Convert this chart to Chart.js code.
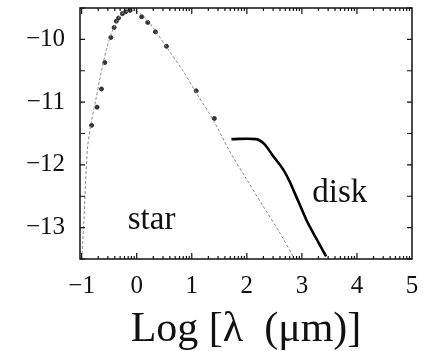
<!DOCTYPE html>
<html>
<head>
<meta charset="utf-8">
<script src="https://cdn.jsdelivr.net/npm/chart.js@4.4.0/dist/chart.umd.min.js"></script>
<style>
  html, body { margin: 0; padding: 0; background: #fff; }
  #wrap { width: 423px; height: 351px; position: relative; }
</style>
</head>
<body>
<div id="wrap"><canvas id="sed"></canvas></div>
<script>
// stellar photosphere model (thin grey line)
const starLineX = [-1.0, -0.96, -0.93, -0.89, -0.82, -0.74, -0.67, -0.55, -0.43, -0.28, -0.13, 0.0, 0.18, 0.36, 0.57, 0.84, 1.08, 1.38, 1.68, 1.99, 2.29, 2.59, 2.86];
const starLineY = [-13.5, -12.9, -12.3, -11.7, -11.3, -10.95, -10.63, -10.16, -9.84, -9.6, -9.54, -9.55, -9.68, -9.89, -10.16, -10.5, -10.85, -11.27, -11.77, -12.22, -12.65, -13.07, -13.49];

// photometry points
const obsX = [-0.82, -0.72, -0.64, -0.58, -0.47, -0.41, -0.37, -0.33, -0.26, -0.2, -0.12, 0.09, 0.2, 0.34, 0.54, 1.08, 1.41];
const obsY = [-11.37, -11.08, -10.79, -10.37, -9.97, -9.81, -9.71, -9.66, -9.59, -9.56, -9.54, -9.64, -9.73, -9.88, -10.11, -10.82, -11.26];

// disk emission (thick black line)
const diskX = [1.72, 2.17, 2.32, 2.47, 2.65, 2.77, 2.86, 2.98, 3.10, 3.26, 3.44];
const diskY = [-11.59, -11.59, -11.67, -11.85, -12.06, -12.25, -12.43, -12.67, -12.91, -13.17, -13.46];

// axes
const xTicks = [-1, 0, 1, 2, 3, 4, 5];
const yTicks = [-10, -11, -12, -13];
const yMinorTicks = [-9.5, -10, -10.5, -11, -11.5, -12, -12.5, -13, -13.5];

// in-plot labels
const noteText = ['star', 'disk'];
const noteX = [0.27, 3.19];
const noteY = [-13.02, -12.59];

const toPts = (xs, ys) => xs.map((x, i) => ({ x: x, y: ys[i] }));
const serif = '"Liberation Serif", "DejaVu Serif", serif';

// frame + inward ticks + the two text notes
const framePlugin = {
  id: 'frame',
  afterDatasetsDraw(chart) {
    const { ctx, chartArea: a, scales: { x, y } } = chart;
    ctx.save();
    ctx.strokeStyle = '#111';
    ctx.lineWidth = 1.5;
    ctx.strokeRect(a.left, a.top, a.right - a.left, a.bottom - a.top);

    ctx.lineWidth = 1.2;
    ctx.beginPath();
    // x ticks: major at integers, minor at log steps in each decade
    for (let d = -1; d <= 4; d++) {
      for (let k = 1; k <= 9; k++) {
        const v = d + Math.log10(k);
        if (v < x.min || v > x.max) continue;
        const px = x.getPixelForValue(v);
        const len = k === 1 ? 6 : 3;
        ctx.moveTo(px, a.bottom); ctx.lineTo(px, a.bottom - len);
        ctx.moveTo(px, a.top); ctx.lineTo(px, a.top + len);
      }
    }
    yMinorTicks.forEach(v => {
      const py = y.getPixelForValue(v);
      ctx.moveTo(a.left, py); ctx.lineTo(a.left + 5, py);
      ctx.moveTo(a.right, py); ctx.lineTo(a.right - 5, py);
    });
    ctx.stroke();

    ctx.fillStyle = '#111';
    ctx.font = '33px ' + serif;
    ctx.textBaseline = 'alphabetic';
    noteText.forEach((t, i) => {
      ctx.textAlign = i === 0 ? 'center' : 'left';
      ctx.fillText(t, x.getPixelForValue(noteX[i]), y.getPixelForValue(noteY[i]));
    });
    ctx.restore();
  }
};

new Chart(document.getElementById('sed'), {
  type: 'scatter',
  data: {
    datasets: [
      {
        label: 'star',
        type: 'line',
        data: toPts(starLineX, starLineY),
        borderColor: '#8a8a8a',
        borderWidth: 1,
        borderDash: [3, 2],
        pointRadius: 0,
        tension: 0.3,
        fill: false
      },
      {
        label: 'obs',
        data: toPts(obsX, obsY),
        backgroundColor: '#333',
        borderColor: '#333',
        pointRadius: 2,
        pointHoverRadius: 2
      },
      {
        label: 'disk',
        type: 'line',
        data: toPts(diskX, diskY),
        borderColor: '#000',
        borderWidth: 2.6,
        pointRadius: 0,
        tension: 0.3,
        fill: false
      }
    ]
  },
  options: {
    responsive: true,
    maintainAspectRatio: false,
    animation: false,
    layout: { padding: { top: 8, right: 11, left: 0, bottom: 0 } },
    plugins: { legend: { display: false }, tooltip: { enabled: false } },
    scales: {
      x: {
        type: 'linear',
        min: -1.03,
        max: 5.0,
        grid: { display: false, drawTicks: false },
        border: { display: false },
        afterBuildTicks: s => { s.ticks = xTicks.map(v => ({ value: v })); },
        afterFit: s => { s.height = 92; s.paddingLeft = 0; s.paddingRight = 0; },
        ticks: {
          color: '#111',
          padding: 12,
          maxRotation: 0,
          font: { family: serif, size: 25 },
          callback: v => String(v).replace('-', '\u2212')
        },
        title: {
          display: true,
          text: 'Log [\u03bb  (\u03bcm)]',
          color: '#111',
          font: { family: serif, size: 42 },
          padding: { top: 0, bottom: -4 }
        }
      },
      y: {
        type: 'linear',
        min: -13.5,
        max: -9.5,
        grid: { display: false, drawTicks: false },
        border: { display: false },
        afterBuildTicks: s => { s.ticks = yTicks.map(v => ({ value: v })); },
        afterFit: s => { s.width = 80; s.paddingTop = 0; s.paddingBottom = 0; },
        ticks: {
          color: '#111',
          padding: 15,
          font: { family: serif, size: 25 },
          callback: v => String(v).replace('-', '\u2212')
        }
      }
    }
  },
  plugins: [framePlugin]
});
</script>
</body>
</html>
